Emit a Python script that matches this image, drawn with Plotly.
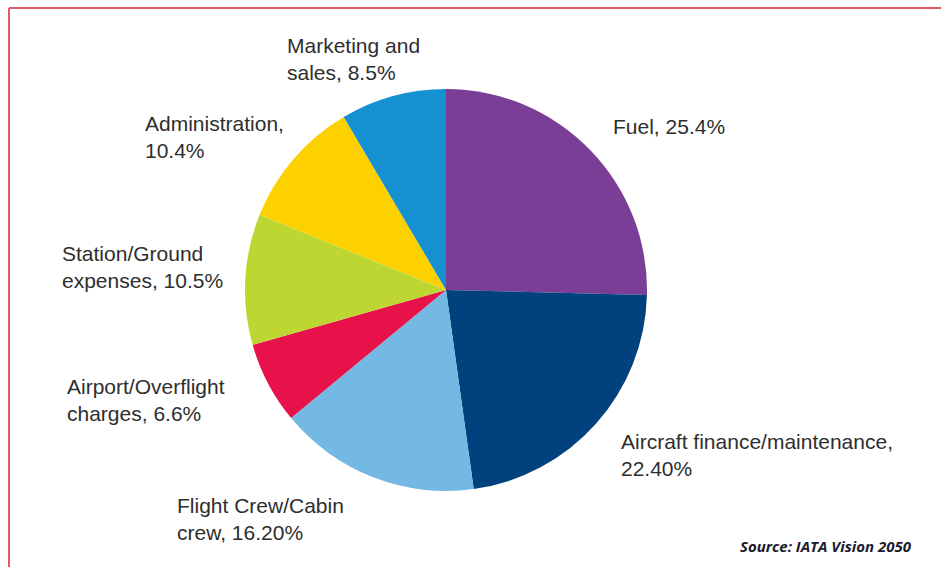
import plotly.graph_objects as go

# Airline cost breakdown (share of total operating cost, %)
categories = [
    "Fuel",
    "Aircraft finance/maintenance",
    "Flight Crew/Cabin crew",
    "Airport/Overflight charges",
    "Station/Ground expenses",
    "Administration",
    "Marketing and sales",
]
shares = [25.4, 22.4, 16.2, 6.6, 10.5, 10.4, 8.5]
label_texts = [
    "Fuel, 25.4%",
    "Aircraft finance/maintenance,<br>22.40%",
    "Flight Crew/Cabin<br>crew, 16.20%",
    "Airport/Overflight<br>charges, 6.6%",
    "Station/Ground<br>expenses, 10.5%",
    "Administration,<br>10.4%",
    "Marketing and<br>sales, 8.5%",
]
slice_colors = ["#7a3e96", "#00417e", "#74b9e4", "#e8124a", "#bed631", "#fdd000", "#1590d0"]

W, H = 941, 567
CX, CY, R = 446, 290, 201

# label anchor points (left edge, vertical middle), in pixels
label_pos = [
    (611, 126),
    (619, 455),
    (175, 519),
    (65, 400),
    (60, 267),
    (143, 137),
    (285, 59),
]


def px(x):
    return x / W


def py(y):
    return 1 - y / H


fig = go.Figure(
    go.Pie(
        labels=categories,
        values=shares,
        sort=False,
        direction="clockwise",
        rotation=0,
        marker=dict(colors=slice_colors, line=dict(width=0)),
        textinfo="none",
        hoverinfo="label+percent",
        showlegend=False,
        domain=dict(x=[px(CX - R), px(CX + R)], y=[py(CY + R), py(CY - R)]),
    )
)

annotations = []
for txt, (lx, ly) in zip(label_texts, label_pos):
    annotations.append(
        dict(
            text=txt,
            x=px(lx),
            y=py(ly),
            xref="paper",
            yref="paper",
            xanchor="left",
            yanchor="middle",
            align="left",
            showarrow=False,
            font=dict(family="Liberation Sans, Arial, sans-serif", size=21, color="#2e2e2e"),
        )
    )

annotations.append(
    dict(
        text="<b><i>Source: IATA Vision 2050</i></b>",
        x=px(914),
        y=py(546),
        xref="paper",
        yref="paper",
        xanchor="right",
        yanchor="middle",
        showarrow=False,
        font=dict(family="Open Sans, sans-serif", size=15, color="#1b1b2e"),
    )
)

shapes = [
    dict(type="line", xref="paper", yref="paper", x0=px(9), x1=1, y0=py(8), y1=py(8),
         line=dict(color="#dc5a6a", width=2)),
    dict(type="line", xref="paper", yref="paper", x0=px(9), x1=px(9), y0=py(8), y1=0,
         line=dict(color="#dc5a6a", width=2)),
]

fig.update_layout(
    width=W,
    height=H,
    margin=dict(l=0, r=0, t=0, b=0),
    paper_bgcolor="white",
    plot_bgcolor="white",
    annotations=annotations,
    shapes=shapes,
)

fig.write_html("out.html")
